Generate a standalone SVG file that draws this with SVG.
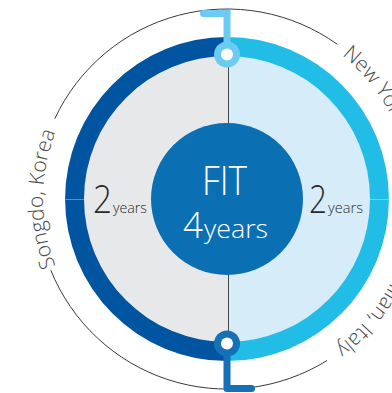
<svg xmlns="http://www.w3.org/2000/svg" width="392" height="393" viewBox="0 0 392 393">
  <defs>
    <style>
      .lbl { font-family: "Open Sans", "Liberation Sans", sans-serif; font-weight: 300; fill: #4a4a4a; font-size: 21px; }
      .num { font-family: "Open Sans", "Liberation Sans", sans-serif; font-weight: 300; fill: #2b2b2b; }
      .wht { font-family: "Open Sans", "Liberation Sans", sans-serif; font-weight: 300; fill: #ffffff; }
      .arc { fill: none; stroke: #3a3a3a; stroke-width: 1; }
    </style>
    <path id="pLeft" d="M 96.9 329.1 A 184 184 0 0 1 96.9 68.9"/>
    <path id="pNY" d="M 227 15 A 184 184 0 0 1 411 199"/>
    <path id="pMilan" d="M 411 199 A 184 184 0 0 1 227 383"/>
  </defs>

  <rect width="392" height="393" fill="#ffffff"/>

  <g id="outer-arcs">
    <path class="arc" d="M 54.8 118.7 A 190 190 0 0 1 337.3 44.3"/>
    <path class="arc" d="M 327.1 360.5 A 190 190 0 0 1 50.8 270.2"/>
  </g>

  <g id="ring">
    <path d="M 227 37 A 162 162 0 0 0 227 361 Z" fill="#0054a0"/>
    <path d="M 227 37 A 162 162 0 0 1 227 361 Z" fill="#22bde6"/>
    <path d="M 227 56 A 143 143 0 0 0 227 342 Z" fill="#e7e8ea"/>
    <path d="M 227 56 A 143 143 0 0 1 227 342 Z" fill="#d6ecf9"/>
    <line x1="64" y1="199.5" x2="84" y2="199.5" stroke="#ffffff" stroke-opacity="0.35" stroke-width="1"/>
    <line x1="370" y1="199.5" x2="392" y2="199.5" stroke="#ffffff" stroke-opacity="0.35" stroke-width="1"/>
  </g>

  <g id="connectors">
    <line x1="228.5" y1="56" x2="228.5" y2="342" stroke="#4a4a4a" stroke-width="1"/>
    <path d="M 203.5 13.5 H 227 V 50" fill="none" stroke="#6ccbf2" stroke-width="7" stroke-linecap="round" stroke-linejoin="miter"/>
    <path d="M 227 350 V 388.5 H 251.5" fill="none" stroke="#1570b8" stroke-width="7" stroke-linecap="round" stroke-linejoin="round"/>
  </g>

  <g id="marker-top">
    <circle cx="227" cy="54.5" r="13" fill="#6ccbf2"/>
    <circle cx="227" cy="54.5" r="6" fill="#ffffff"/>
  </g>
  <g id="marker-bottom">
    <circle cx="227" cy="343.5" r="13" fill="#1570b8"/>
    <circle cx="227" cy="343.5" r="6" fill="#ffffff"/>
  </g>

  <g id="center">
    <circle cx="227" cy="199" r="76" fill="#0b6fb4"/>
    <text class="wht" x="202" y="195" font-size="41" textLength="45" lengthAdjust="spacingAndGlyphs">FIT</text>
    <text class="wht" x="183" y="238" font-size="36" textLength="20" lengthAdjust="spacingAndGlyphs">4</text>
    <text class="wht" x="204" y="238" font-size="25" textLength="64" lengthAdjust="spacingAndGlyphs">years</text>
  </g>

  <g id="left-half">
    <text class="num" x="93" y="213" font-size="39" textLength="19" lengthAdjust="spacingAndGlyphs">2</text>
    <text class="num" x="113" y="213" font-size="15" textLength="34" lengthAdjust="spacingAndGlyphs">years</text>
  </g>
  <g id="right-half">
    <text class="num" x="309" y="213" font-size="39" textLength="18" lengthAdjust="spacingAndGlyphs">2</text>
    <text class="num" x="328" y="213" font-size="15" textLength="35" lengthAdjust="spacingAndGlyphs">years</text>
  </g>

  <g id="labels">
    <text class="lbl" text-anchor="middle"><textPath href="#pLeft" startOffset="50%">Songdo, Korea</textPath></text>
    <text class="lbl"><textPath href="#pNY" startOffset="124">New York</textPath></text>
    <text class="lbl" text-anchor="end"><textPath href="#pMilan" startOffset="173">Milan, Italy</textPath></text>
  </g>
</svg>
